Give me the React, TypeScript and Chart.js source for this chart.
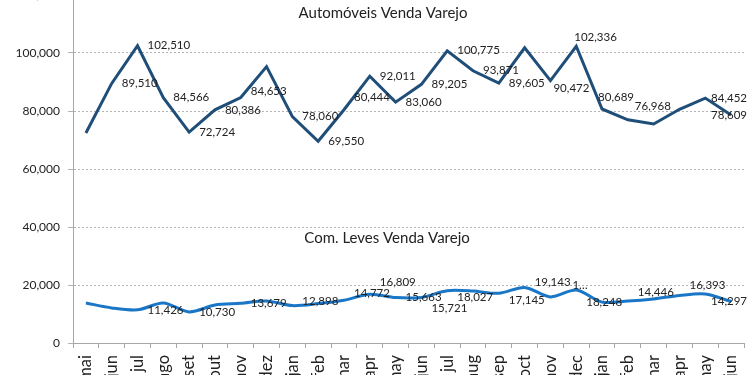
import React, { useEffect, useRef } from "react";
import { Chart, registerables } from "chart.js";

Chart.register(...registerables);

const months = ["mai", "jun", "jul", "ago", "set", "out", "nov", "dez", "jan", "feb", "mar", "apr", "may", "jun", "jul", "aug", "sep", "oct", "nov", "dec", "jan", "feb", "mar", "apr", "may", "jun"];

const autoTitle = "Automóveis Venda Varejo";
const comTitle = "Com. Leves Venda Varejo";

const autoValues = [72400, 89510, 102510, 84566, 72724, 80386, 84653, 95300, 78060, 69550, 80444, 92011, 83060, 89205, 100775, 93871, 89605, 101800, 90472, 102336, 80689, 76968, 75500, 80600, 84452, 78609];
const autoShown = [false, true, true, true, true, true, true, false, true, true, true, true, true, true, true, true, true, false, true, true, true, true, false, false, true, true];

const comValues = [13800, 12100, 11426, 13800, 10730, 13100, 13679, 14500, 12898, 13600, 14772, 16809, 15663, 15721, 18027, 17900, 17145, 19143, 15900, 18248, 14100, 14446, 15200, 16393, 16900, 14297];
const comShown = [false, false, true, false, true, false, true, false, true, false, true, true, true, true, true, false, true, true, true, true, false, true, false, true, false, true];
const comTruncated = [18];

const yMin = 0;
const yMax = 120000;
const yStep = 20000;

// label nudges relative to the default "right of point" placement: [dx, dy]
const autoNudge: Record<number, [number, number]> = {
  6: [0, -6],
  10: [0, -12],
  18: [-7, 8],
  19: [-12, -9],
  20: [-14, -12],
  21: [-3, -13],
};
const comNudge: Record<number, [number, number]> = {
  8: [0, -4],
  10: [0, -7],
  11: [0, -12],
  13: [0, 11],
  14: [0, 7],
  16: [0, 7],
  17: [0, -5],
  18: [12, -12],
  19: [0, 12],
  21: [0, -9],
  23: [0, -10],
};

const FONT = "Lato";
const fmt = (v: number) => v.toLocaleString("en-US");

const overlayPlugin = {
  id: "overlay",
  afterDatasetsDraw(chart: any) {
    const { ctx, chartArea, scales } = chart;
    ctx.save();
    ctx.fillStyle = "#222";
    ctx.textBaseline = "middle";
    ctx.textAlign = "left";
    ctx.font = `11.5px ${FONT}`;
    const sets = [
      { idx: 0, values: autoValues, shown: autoShown, nudge: autoNudge, trunc: [] as number[] },
      { idx: 1, values: comValues, shown: comShown, nudge: comNudge, trunc: comTruncated },
    ];
    for (const s of sets) {
      const meta = chart.getDatasetMeta(s.idx);
      meta.data.forEach((el: any, i: number) => {
        if (!s.shown[i]) return;
        let text = fmt(s.values[i]);
        if (s.trunc.includes(i)) text = text.charAt(0) + "…";
        const w = ctx.measureText(text).width;
        const n = s.nudge[i] || [0, 0];
        let x = el.x + 10 + n[0];
        if (x + w > chart.width - 3) x = chart.width - 3 - w;
        const y = el.y + n[1];
        ctx.fillText(text, x, y);
      });
    }
    ctx.font = `15px ${FONT}`;
    ctx.textAlign = "center";
    const cx1 = chartArea.left + chartArea.width * 0.462;
    const cx2 = chartArea.left + chartArea.width * 0.468;
    ctx.fillText(autoTitle, cx1, scales.y.getPixelForValue(113800));
    ctx.fillText(comTitle, cx2, scales.y.getPixelForValue(36200));
    ctx.restore();
  },
};

const OFFSET = 20;
const H = 420;

export default function App() {
  const ref = useRef<HTMLCanvasElement | null>(null);
  useEffect(() => {
    if (!ref.current) return;
    Chart.defaults.font.family = FONT;
    const chart = new Chart(ref.current, {
      type: "line",
      data: {
        labels: months,
        datasets: [
          {
            label: autoTitle,
            data: autoValues,
            borderColor: "#1F4E79",
            borderWidth: 3,
            pointRadius: 0,
            tension: 0,
            fill: false,
          },
          {
            label: comTitle,
            data: comValues,
            borderColor: "#1A76C6",
            borderWidth: 3,
            pointRadius: 0,
            tension: 0.3,
            fill: false,
          },
        ],
      },
      options: {
        animation: false,
        responsive: true,
        maintainAspectRatio: false,
        layout: { padding: { top: 15, left: 0, right: 6, bottom: 0 } },
        plugins: { legend: { display: false }, tooltip: { enabled: false } },
        scales: {
          x: {
            offset: true,
            grid: {
              offset: true,
              drawOnChartArea: false,
              drawTicks: true,
              tickLength: 5,
              color: "#a6a6a6",
            },
            border: { display: true, color: "#a6a6a6", width: 1 },
            ticks: {
              autoSkip: false,
              maxRotation: 90,
              minRotation: 90,
              padding: 7,
              color: "#222",
              font: { size: 16.5, family: FONT },
            },
            afterFit(scale: any) {
              scale.height = H - (343 + OFFSET);
              scale.paddingLeft = 0;
              scale.paddingRight = 0;
            },
          },
          y: {
            min: yMin,
            max: yMax,
            grid: {
              color: "#b3b3b3",
              tickLength: 5,
              tickBorderDash: [],
            },
            border: { display: true, color: "#a6a6a6", width: 1, dash: [2, 2] },
            ticks: {
              stepSize: yStep,
              padding: 8,
              color: "#222",
              font: { size: 12, family: FONT },
              callback: (v: any) => fmt(Number(v)),
            },
            afterFit(scale: any) {
              scale.width = 73;
              scale.paddingTop = 0;
              scale.paddingBottom = 0;
            },
          },
        },
      },
      plugins: [overlayPlugin],
    });
    return () => chart.destroy();
  }, []);

  return (
    <div style={{ position: "fixed", left: 0, top: 0, width: 750, height: 375, overflow: "hidden", background: "#fff" }}>
      <div style={{ position: "absolute", left: 0, top: -OFFSET, width: 750, height: H }}>
        <canvas ref={ref} />
      </div>
    </div>
  );
}
